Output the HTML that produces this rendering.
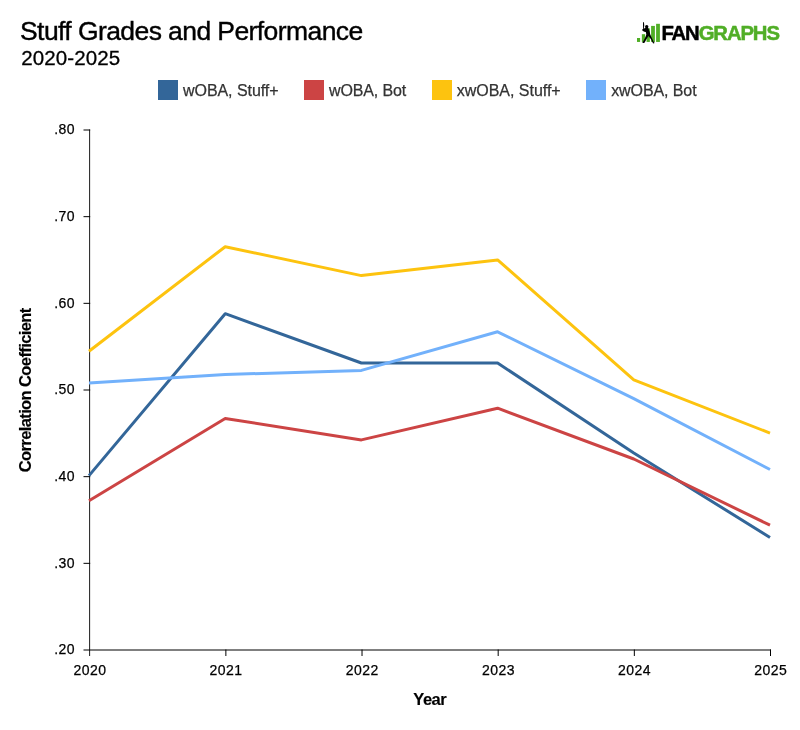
<!DOCTYPE html>
<html lang="en"><head><meta charset="utf-8"><title>Stuff Grades and Performance</title>
<style>html,body{margin:0;padding:0;background:#fff}body{width:800px;height:730px;overflow:hidden}svg text{font-family:"Liberation Sans", sans-serif}</style></head>
<body>
<svg width="800" height="730" viewBox="0 0 800 730" style="display:block;will-change:transform">
<text id="t_title" x="20" y="39.8" font-size="26.5" fill="#000" textLength="343.2" lengthAdjust="spacing" stroke="#000" stroke-width="0.4">Stuff Grades and Performance</text>
<text id="t_sub" x="21.2" y="64.8" font-size="20.5" fill="#000" textLength="99.0" lengthAdjust="spacing" stroke="#000" stroke-width="0.3">2020-2025</text>
<rect x="158" y="80" width="20" height="20" fill="#336699"/>
<text id="t_leg0" x="183" y="96" font-size="16" fill="#333" textLength="95.6" lengthAdjust="spacing" stroke="#333" stroke-width="0.25">wOBA, Stuff+</text>
<rect x="304" y="80" width="20" height="20" fill="#cc4444"/>
<text id="t_leg1" x="329" y="96" font-size="16" fill="#333" textLength="77.2" lengthAdjust="spacing" stroke="#333" stroke-width="0.25">wOBA, Bot</text>
<rect x="432" y="80" width="20" height="20" fill="#fdc30f"/>
<text id="t_leg2" x="456.8" y="96" font-size="16" fill="#333" textLength="103.9" lengthAdjust="spacing" stroke="#333" stroke-width="0.25">xwOBA, Stuff+</text>
<rect x="586" y="80" width="20" height="20" fill="#72b1fb"/>
<text id="t_leg3" x="611.2" y="96" font-size="16" fill="#333" textLength="85.4" lengthAdjust="spacing" stroke="#333" stroke-width="0.25">xwOBA, Bot</text>
<path d="M89.62 129.5V656" stroke="#1a1a1a" stroke-width="1" fill="none"/>
<path d="M83.5 650H771" stroke="#000" stroke-width="1" fill="none"/>
<text id="t_y0" x="74.6" y="654.2" font-size="14" text-anchor="end" fill="#000" textLength="20.4" lengthAdjust="spacing" stroke="#000" stroke-width="0.25">.20</text>
<path d="M83.5 563.33H90.2" stroke="#000" stroke-width="1"/>
<text id="t_y1" x="74.6" y="567.5" font-size="14" text-anchor="end" fill="#000" textLength="20.4" lengthAdjust="spacing" stroke="#000" stroke-width="0.25">.30</text>
<path d="M83.5 476.67H90.2" stroke="#000" stroke-width="1"/>
<text id="t_y2" x="74.6" y="480.9" font-size="14" text-anchor="end" fill="#000" textLength="20.4" lengthAdjust="spacing" stroke="#000" stroke-width="0.25">.40</text>
<path d="M83.5 390.00H90.2" stroke="#000" stroke-width="1"/>
<text id="t_y3" x="74.6" y="394.2" font-size="14" text-anchor="end" fill="#000" textLength="20.4" lengthAdjust="spacing" stroke="#000" stroke-width="0.25">.50</text>
<path d="M83.5 303.33H90.2" stroke="#000" stroke-width="1"/>
<text id="t_y4" x="74.6" y="307.5" font-size="14" text-anchor="end" fill="#000" textLength="20.4" lengthAdjust="spacing" stroke="#000" stroke-width="0.25">.60</text>
<path d="M83.5 216.67H90.2" stroke="#000" stroke-width="1"/>
<text id="t_y5" x="74.6" y="220.9" font-size="14" text-anchor="end" fill="#000" textLength="20.4" lengthAdjust="spacing" stroke="#000" stroke-width="0.25">.70</text>
<path d="M83.5 130.00H90.2" stroke="#000" stroke-width="1"/>
<text id="t_y6" x="74.6" y="134.2" font-size="14" text-anchor="end" fill="#000" textLength="20.4" lengthAdjust="spacing" stroke="#000" stroke-width="0.25">.80</text>
<text id="t_x0" x="89.7" y="675" font-size="14" text-anchor="middle" fill="#000" textLength="32.5" lengthAdjust="spacing" stroke="#000" stroke-width="0.25">2020</text>
<path d="M225.86 649.5V656" stroke="#000" stroke-width="1"/>
<text id="t_x1" x="225.86" y="675" font-size="14" text-anchor="middle" fill="#000" textLength="32.5" lengthAdjust="spacing" stroke="#000" stroke-width="0.25">2021</text>
<path d="M362.02 649.5V656" stroke="#000" stroke-width="1"/>
<text id="t_x2" x="362.02" y="675" font-size="14" text-anchor="middle" fill="#000" textLength="32.5" lengthAdjust="spacing" stroke="#000" stroke-width="0.25">2022</text>
<path d="M498.18 649.5V656" stroke="#000" stroke-width="1"/>
<text id="t_x3" x="498.18" y="675" font-size="14" text-anchor="middle" fill="#000" textLength="32.5" lengthAdjust="spacing" stroke="#000" stroke-width="0.25">2023</text>
<path d="M634.34 649.5V656" stroke="#000" stroke-width="1"/>
<text id="t_x4" x="634.34" y="675" font-size="14" text-anchor="middle" fill="#000" textLength="32.5" lengthAdjust="spacing" stroke="#000" stroke-width="0.25">2024</text>
<path d="M770.5 649.5V656" stroke="#000" stroke-width="1"/>
<text id="t_x5" x="770.5" y="675" font-size="14" text-anchor="middle" fill="#000" textLength="32.5" lengthAdjust="spacing" stroke="#000" stroke-width="0.25">2025</text>
<text id="t_year" x="430" y="704.7" font-size="16.5" font-weight="bold" text-anchor="middle" fill="#000" textLength="33.3" lengthAdjust="spacing" stroke="#000" stroke-width="0.15">Year</text>
<text id="t_ytitle" transform="translate(30.6 390) rotate(-90)" font-size="16.5" font-weight="bold" fill="#000" text-anchor="middle" textLength="164.5" lengthAdjust="spacing" stroke="#000" stroke-width="0.15">Correlation Coefficient</text>
<polyline points="89.0,475.6 225.2,313.7 361.4,363.0 497.6,363.0 633.8,453.0 770.0,537.4" fill="none" stroke="#336699" stroke-width="3" stroke-linejoin="round" stroke-linecap="butt"/>
<polyline points="89.0,500.7 225.2,418.5 361.4,439.9 497.6,408.2 633.8,459.0 770.0,525.2" fill="none" stroke="#cc4444" stroke-width="3" stroke-linejoin="round" stroke-linecap="butt"/>
<polyline points="89.0,351.3 225.2,246.7 361.4,275.6 497.6,259.9 633.8,379.8 770.0,433.1" fill="none" stroke="#fdc30f" stroke-width="3" stroke-linejoin="round" stroke-linecap="butt"/>
<polyline points="89.0,383.0 225.2,374.5 361.4,370.4 497.6,331.8 633.8,398.6 770.0,469.5" fill="none" stroke="#72b1fb" stroke-width="3" stroke-linejoin="round" stroke-linecap="butt"/>
<g id="logo">
<rect x="637.0" y="38.0" width="3.1" height="3.95" fill="#50ae26"/>
<rect x="641.85" y="34.2" width="3.3" height="7.75" fill="#50ae26"/>
<rect x="646.55" y="28.4" width="3.3" height="13.55" fill="#50ae26"/>
<rect x="651.1" y="25.9" width="3.8" height="16.05" fill="#50ae26"/>
<rect x="656.1" y="23.8" width="3.8" height="18.15" fill="#50ae26"/>
<circle cx="646.7" cy="26.8" r="1.7" fill="#000"/>
<path fill="#000" d="M643.0 22.2L643.95 22.2L644.25 25.5L643.95 28.6L645.4 27.9L648.3 27.9L649.6 31.5L650.3 34.4L652.1 38.4L653.9 42.2L654.8 43.1L653.1 43.4L651.0 39.2L648.4 36.0L646.3 39.4L644.3 43.0L642.2 43.1L642.9 42.0L645.0 38.0L646.4 34.4L645.8 31.9L644.4 31.7L642.5 30.8L642.2 29.5L643.2 28.7L643.0 25.5Z"/>
<text id="t_logo" x="661.4" y="40.1" font-size="20.3" font-weight="bold" letter-spacing="-1.1" stroke-width="0.5" stroke-linejoin="round" style="font-family:'Liberation Sans', sans-serif"><tspan fill="#000" stroke="#000">FAN</tspan><tspan fill="#50ae26" stroke="#50ae26">GRAPHS</tspan></text>
</g>
</svg>
</body></html>
